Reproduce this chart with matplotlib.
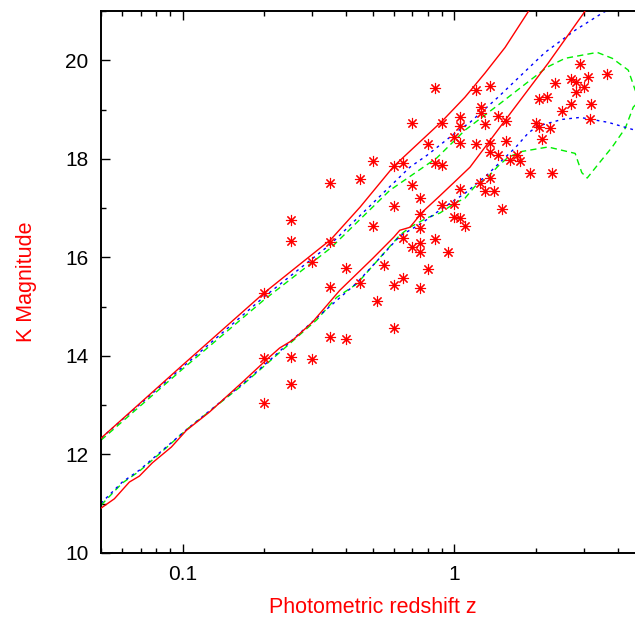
import matplotlib
matplotlib.use('Agg')
import matplotlib.pyplot as plt
from matplotlib.ticker import FixedLocator, NullFormatter, FixedFormatter

plt.rcParams['font.family'] = ['Liberation Sans', 'DejaVu Sans']

# ---- data: observed galaxies (photometric redshift, K magnitude) ----
star_z = [0.20, 0.25, 0.25, 0.30, 0.20, 0.25, 0.30, 0.25, 0.20, 0.35,
          0.35, 0.40, 0.85, 1.20, 1.35, 2.90, 2.70, 3.10, 3.65, 2.35,
          2.80, 3.00, 2.80, 2.05, 2.20, 2.70, 3.20, 2.50, 3.15, 0.70,
          0.90, 1.05, 1.05, 1.25, 1.25, 1.30, 1.45, 1.55, 2.00, 2.05,
          2.25, 2.10, 0.80, 1.00, 1.05, 1.20, 1.35, 1.55, 1.35, 1.45,
          1.60, 1.70, 1.75, 1.90, 2.30, 0.50, 0.60, 0.65, 0.85, 0.90,
          0.35, 0.45, 0.70, 0.60, 0.75, 0.50, 0.75, 0.75, 1.05, 0.90,
          1.00, 1.00, 1.05, 1.10, 1.24, 1.35, 1.30, 1.40, 1.50, 0.35,
          0.65, 0.85, 0.70, 0.75, 0.75, 0.95, 0.40, 0.55, 0.80, 0.45,
          0.60, 0.65, 0.75, 0.52, 0.60]
star_K = [15.27, 16.75, 16.33, 15.90, 13.96, 13.98, 13.94, 13.43, 13.04, 15.40,
          14.38, 14.34, 19.43, 19.39, 19.47, 19.92, 19.63, 19.66, 19.72, 19.53,
          19.55, 19.45, 19.35, 19.21, 19.25, 19.11, 19.11, 18.97, 18.80, 18.72,
          18.72, 18.84, 18.66, 19.05, 18.92, 18.70, 18.86, 18.76, 18.72, 18.64,
          18.62, 18.40, 18.30, 18.44, 18.32, 18.30, 18.32, 18.36, 18.13, 18.07,
          17.97, 18.07, 17.95, 17.71, 17.71, 17.95, 17.85, 17.91, 17.91, 17.87,
          17.51, 17.59, 17.46, 17.04, 17.20, 16.63, 16.88, 16.59, 17.38, 17.06,
          17.08, 16.82, 16.80, 16.63, 17.51, 17.61, 17.34, 17.34, 16.98, 16.31,
          16.39, 16.37, 16.21, 16.29, 16.11, 16.11, 15.78, 15.84, 15.76, 15.48,
          15.44, 15.58, 15.38, 15.11, 14.56]

# ---- model tracks: bright (upper) and faint (lower) sets ----
red_up_z = [0.05, 0.0997, 0.1985, 0.2700, 0.3508, 0.4500, 0.599, 0.9007, 1.095, 1.298,
            1.539, 1.855, 1.951]
red_up_K = [12.33, 13.81, 15.27, 15.86, 16.36, 17.02, 17.85, 18.76, 19.25, 19.74,
            20.26, 20.95, 21.14]

blue_up_z = [0.05, 0.0997, 0.1985, 0.3508, 0.5012, 0.6864, 0.7931, 1.006, 1.143, 1.450,
             2.161, 2.789, 3.538, 3.819]
blue_up_K = [12.33, 13.77, 15.19, 16.27, 17.10, 17.83, 18.07, 18.52, 18.74, 19.25,
             20.16, 20.61, 20.97, 21.06]

green_up_z = [0.05, 0.0997, 0.1985, 0.3508, 0.579, 0.8634, 1.006, 1.095, 1.450, 2.198,
              2.562, 3.362, 3.819, 4.375, 4.643, 4.845]
green_up_K = [12.29, 13.73, 15.13, 16.19, 17.36, 18.02, 18.38, 18.58, 19.09, 19.86,
              20.04, 20.16, 20.04, 19.80, 19.39, 19.19]

red_lo_z = [0.05, 0.0560, 0.0636, 0.0692, 0.0773, 0.0908, 0.1032, 0.1254, 0.1661, 0.2089,
            0.2274, 0.2540, 0.3010, 0.3787, 0.5012, 0.599, 0.6302, 0.6864, 0.7665, 0.8856,
            0.989, 1.143, 1.539, 2.217, 3.010, 3.10]
red_lo_K = [10.91, 11.10, 11.44, 11.56, 11.83, 12.15, 12.49, 12.86, 13.47, 13.98,
            14.16, 14.32, 14.69, 15.33, 15.98, 16.41, 16.55, 16.61, 16.93, 17.25,
            17.50, 17.83, 18.78, 19.94, 20.97, 21.10]

blue_lo_z = [0.05, 0.0599, 0.0692, 0.0820, 0.1041, 0.1661, 0.2089, 0.3113, 0.4375, 0.6302,
             0.7665, 0.8856, 1.095, 1.32, 1.50, 1.675, 1.871, 2.019, 2.497, 2.91,
             3.692, 4.643, 5.055]
blue_lo_K = [11.01, 11.44, 11.68, 12.03, 12.52, 13.43, 13.91, 14.77, 15.48, 16.43,
             16.71, 16.96, 17.30, 17.67, 17.97, 18.22, 18.52, 18.66, 18.80, 18.84,
             18.74, 18.58, 18.52]

green_lo_z = [0.05, 0.0599, 0.0692, 0.0820, 0.1041, 0.1661, 0.2089, 0.3113, 0.3691, 0.4375,
              0.6302, 0.6864, 0.7931, 0.8856, 1.006, 1.095, 1.192, 1.331, 1.45, 1.578,
              1.778, 2.217, 2.789, 2.861, 2.95, 3.088, 3.391, 3.819, 4.265, 4.565, 4.845]
green_lo_K = [10.97, 11.42, 11.66, 12.01, 12.52, 13.41, 13.89, 14.73, 15.19, 15.46,
              16.45, 16.61, 16.80, 16.90, 17.10, 17.20, 17.44, 17.63, 17.85, 18.03,
              18.15, 18.24, 18.11, 17.93, 17.72, 17.61, 17.89, 18.24, 18.62, 19.05, 19.19]

x_major = [0.1, 1]
x_major_labels = ['0.1', '1']
x_minor = [0.05, 0.06, 0.07, 0.08, 0.09, 0.2, 0.3, 0.4, 0.5, 0.6, 0.7, 0.8, 0.9, 2, 3, 4, 5]
y_major = [10, 12, 14, 16, 18, 20]
y_minor = [11, 13, 15, 17, 19, 21]

fig = plt.figure(figsize=(6.35, 6.21), dpi=100)
ax = fig.add_axes([101 / 635, 68 / 621, 543 / 635, 542 / 621])
ax.set_xscale('log')

lw = 1.0
ax.plot(red_up_z, red_up_K, color='#ff0000', lw=lw, zorder=3)
ax.plot(red_lo_z, red_lo_K, color='#ff0000', lw=lw, zorder=3)
ax.plot(green_up_z, green_up_K, color='#00ee00', lw=lw, ls=(0, (4.5, 3)), zorder=2)
ax.plot(green_lo_z, green_lo_K, color='#00ee00', lw=lw, ls=(0, (4.5, 3)), zorder=2)
ax.plot(blue_up_z, blue_up_K, color='#0000ff', lw=lw, ls=(0, (2, 3)), zorder=2)
ax.plot(blue_lo_z, blue_lo_K, color='#0000ff', lw=lw, ls=(0, (2, 3)), zorder=2)

ax.plot(star_z, star_K, ls='none', marker=(8, 2, 0), markersize=8,
        markeredgewidth=0.8, color='#ff0000', zorder=4)

ax.set_xlim(0.05, 5)
ax.set_ylim(10, 21)

ax.xaxis.set_major_locator(FixedLocator(x_major))
ax.xaxis.set_major_formatter(FixedFormatter(x_major_labels))
ax.xaxis.set_minor_locator(FixedLocator(x_minor))
ax.xaxis.set_minor_formatter(NullFormatter())
ax.yaxis.set_major_locator(FixedLocator(y_major))
ax.yaxis.set_minor_locator(FixedLocator(y_minor))

ax.tick_params(which='both', direction='in', top=True, right=True, width=1.0)
ax.tick_params(which='major', length=6.5, labelsize=15, pad=9)
ax.tick_params(which='minor', length=3.3)
for s in ax.spines.values():
    s.set_linewidth(1.4)

ax.set_xlabel('Photometric redshift z', color='#ff0000', fontsize=15.5, labelpad=9)
ax.set_ylabel('K Magnitude', color='#ff0000', fontsize=15.5, labelpad=20)

fig.savefig('out.png', dpi=100)
